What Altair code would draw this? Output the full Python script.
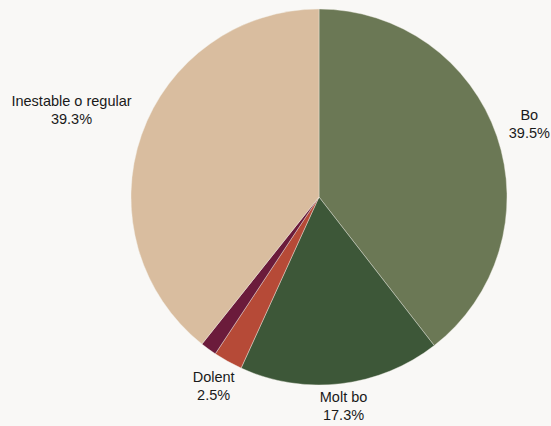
import altair as alt
import pandas as pd

categories = ["Bo", "Molt bo", "Dolent", "NS/NC", "Inestable o regular"]
values = [39.5, 17.3, 2.5, 1.4, 39.3]
pct_labels = ["39.5%", "17.3%", "2.5%", "", "39.3%"]
colors = ["#6b7855", "#3d5738", "#b64a37", "#6b1b3b", "#d9bd9f"]

df = pd.DataFrame({
    "cat": categories,
    "value": values,
    "pct": pct_labels,
    "ord": list(range(len(categories))),
})

R = 188
theta_scale = alt.Scale(domain=[0, 100])

arcs = alt.Chart(df).mark_arc(outerRadius=R, stroke="#f2efe9", strokeWidth=0.4).encode(
    theta=alt.Theta("value:Q", stack=True, scale=theta_scale),
    order=alt.Order("ord:Q"),
    color=alt.Color("cat:N", scale=alt.Scale(domain=categories, range=colors), legend=None),
)

labels = (
    alt.Chart(df)
    .transform_window(cum="sum(value)", sort=[alt.SortField("ord")], frame=[None, 0])
    .transform_joinaggregate(total="sum(value)")
    .transform_calculate(
        mid="100*(datum.cum - datum.value/2)/datum.total",
        ang="2*PI*datum.mid/100",
        hw="max(length(datum.cat)*3.3, length(datum.pct)*4.1)",
        r=f"{R} + 12 + datum.hw*abs(sin(datum.ang)) + 9*abs(cos(datum.ang))",
        txt="[datum.cat, datum.pct]",
    )
    .transform_filter("datum.pct != ''")
    .mark_text(font="Liberation Sans", fontSize=14.5, color="#1a1a1a", lineHeight=18,
               align="center", baseline="middle", dy=-9)
    .encode(
        theta=alt.Theta("mid:Q", stack=None, scale=theta_scale),
        radius=alt.Radius("r:Q", scale=None),
        text="txt:N",
    )
)

chart = (
    alt.layer(arcs, labels)
    .properties(
        width=2 * R,
        height=2 * R,
        padding={"left": 131, "top": 9, "right": 44, "bottom": 41},
        autosize=alt.AutoSizeParams(type="none"),
        background="#f9f8f6",
    )
    .configure_view(stroke=None)
)

chart.save("out.html", embed_options={"renderer": "svg", "actions": False})
